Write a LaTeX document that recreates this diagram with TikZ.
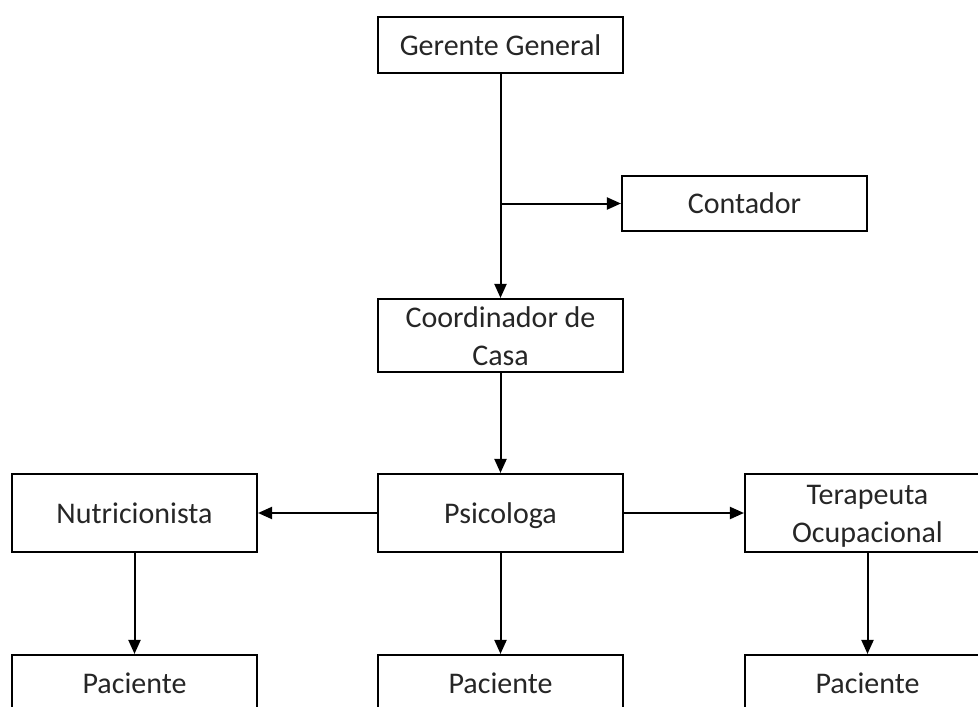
\documentclass[tikz,border=0pt]{standalone}
\usepackage{fontspec}
\setmainfont{Carlito}
\usetikzlibrary{arrows.meta}
\newcommand\orgstrut{\rule[-9pt]{0pt}{38pt}}
\newcommand\orgtop{\rule{0pt}{28pt}}
\newcommand\orgbot{\rule[-7pt]{0pt}{0pt}}
\tikzset{
  orgbox/.style={draw=black, line width=2.1pt, fill=white, rectangle, inner sep=0pt,
    minimum width=245pt, align=center, text=black!85,
    font=\fontsize{30}{38}\selectfont},
  oneline/.style={execute at begin node=\orgstrut},
  link/.style={line width=2pt, -{Triangle[length=14pt,width=12pt]}}
}
\begin{document}
\begin{tikzpicture}[x=1pt,y=-1pt]
\useasboundingbox (0,0) rectangle (978,707);
\clip (0,0) rectangle (978,707);
\fill[white] (0,0) rectangle (978,707);
\node[orgbox, oneline, minimum height=56pt] (g) at (500.5,45) {Gerente General};
\node[orgbox, oneline, minimum height=55pt] (c) at (744.5,203.5) {Contador};
\node[orgbox, minimum height=73pt] (co) at (500.5,335.5) {\orgtop Coordinador de\\Casa\orgbot};
\node[orgbox, oneline, minimum height=78pt] (p) at (500.5,513) {Psicologa};
\node[orgbox, oneline, minimum height=78pt] (n) at (134.5,513) {Nutricionista};
\node[orgbox, minimum height=78pt] (t) at (867.5,513) {\orgtop Terapeuta\\Ocupacional\orgbot};
\node[orgbox, oneline, minimum height=56pt] (p1) at (134.5,683) {Paciente};
\node[orgbox, oneline, minimum height=56pt] (p2) at (500.5,683) {Paciente};
\node[orgbox, oneline, minimum height=56pt] (p3) at (867.5,683) {Paciente};
\coordinate (j) at (g.south |- c.west);
\draw[link] (g) -- (co);
\draw[link] (j) -- (c);
\draw[link] (co) -- (p);
\draw[link] (p) -- (n);
\draw[link] (p) -- (t);
\draw[link] (n) -- (p1);
\draw[link] (p) -- (p2);
\draw[link] (t) -- (p3);
\end{tikzpicture}
\end{document}
